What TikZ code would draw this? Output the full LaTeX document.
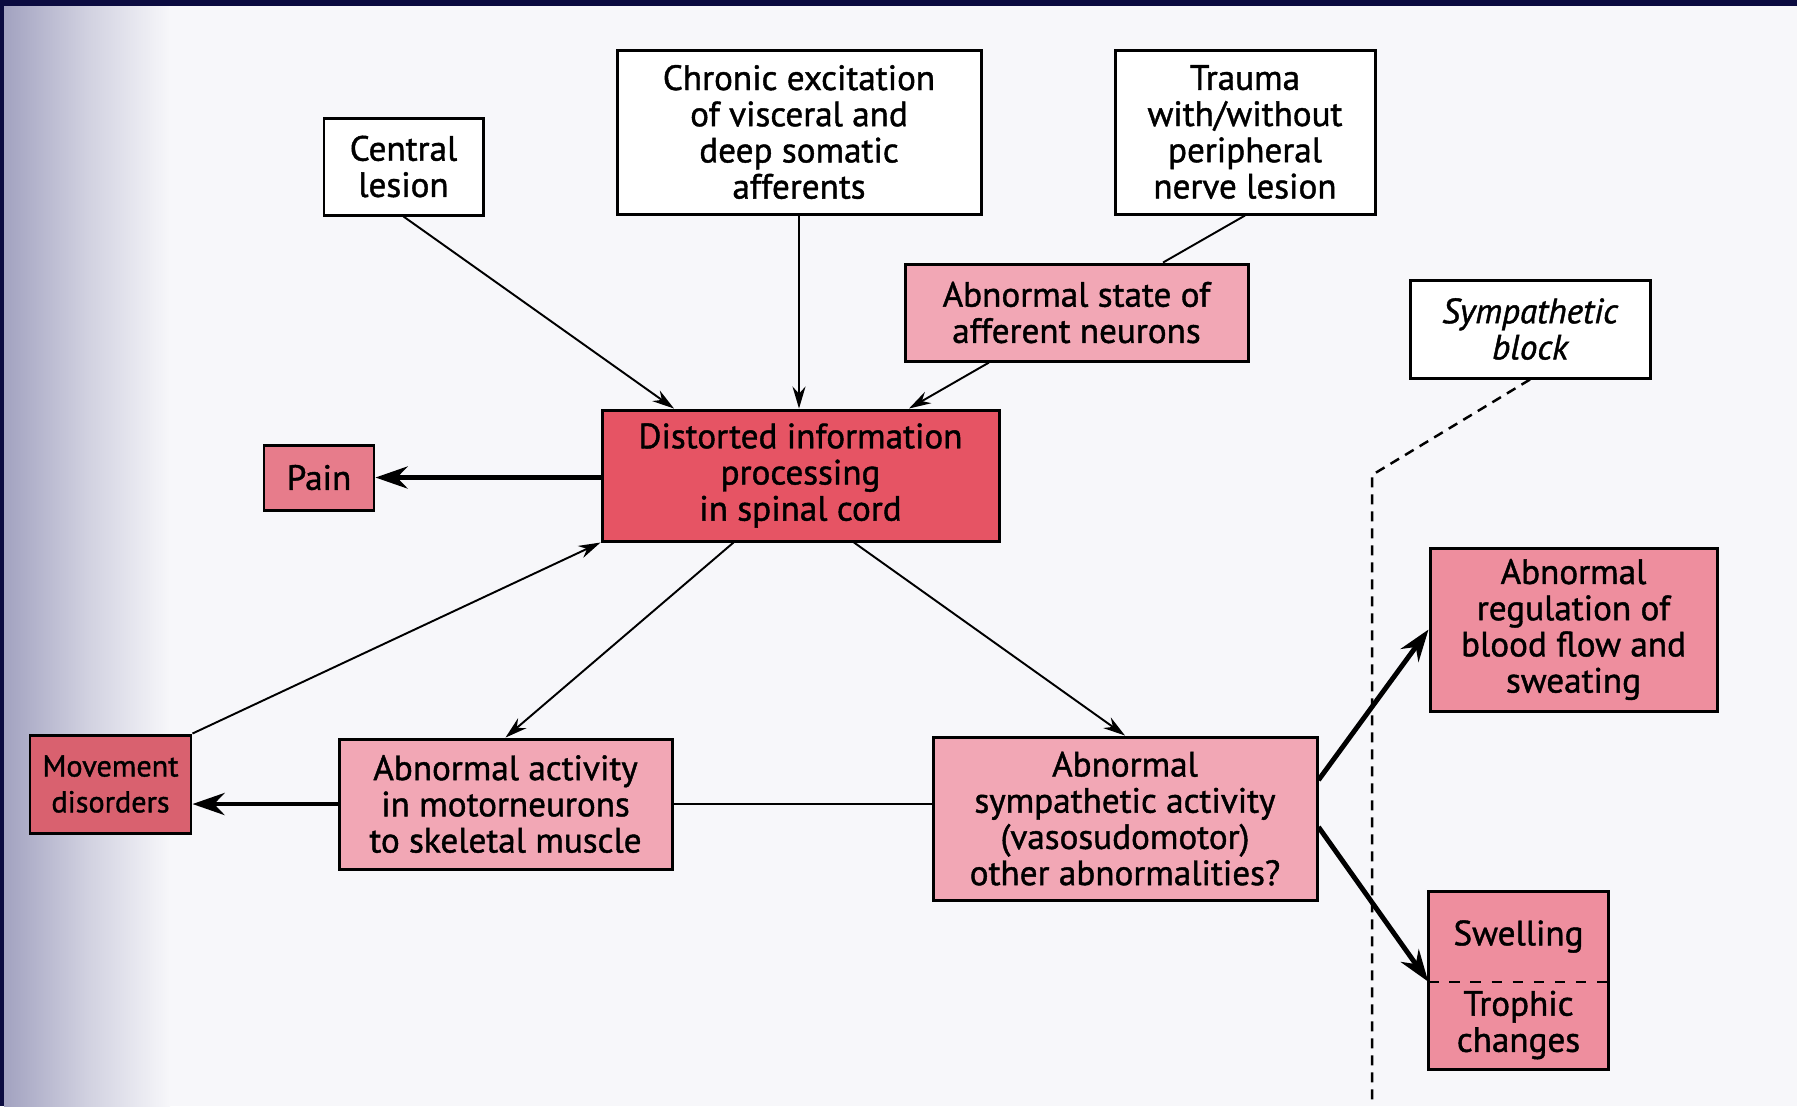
\documentclass[tikz,border=0pt]{standalone}
\usepackage{fontspec}
\setmainfont{PT Sans}[FakeBold=1.2]
\usepackage{tikz}
\usetikzlibrary{positioning,arrows.meta,calc}

\definecolor{coreRed}{HTML}{E65464}
\definecolor{lightPink}{HTML}{F2A7B5}
\definecolor{midPink}{HTML}{EE8E9E}
\definecolor{darkPink}{HTML}{D9616F}
\definecolor{painPink}{HTML}{E77C8B}
\definecolor{navyEdge}{HTML}{0B0B40}
\definecolor{pageGrey}{HTML}{F7F7FA}
\definecolor{scanShade}{HTML}{A2A2C0}

\tikzset{
  box/.style={draw, line width=0.85pt, align=center, inner sep=0pt,
    font=\fontsize{10}{10.3}\selectfont},
  whitebox/.style={box, fill=white},
  lightbox/.style={box, fill=lightPink},
  midbox/.style={box, fill=midPink},
  corebox/.style={box, fill=coreRed},
  painbox/.style={box, fill=painPink},
  movebox/.style={box, fill=darkPink, font=\fontsize{8.6}{10.2}\selectfont},
  halfbox/.style={fill=midPink, align=center, inner sep=0pt,
    font=\fontsize{10}{10.3}\selectfont},
  thin arrow/.style={-{Stealth[length=2.2mm,width=1.3mm]}, line width=0.55pt},
  thick arrow/.style={-{Stealth[length=3.2mm,width=2.2mm]}, line width=1.4pt},
  plain/.style={line width=0.55pt},
  blockline/.style={line width=0.7pt, dash pattern=on 1mm off 0.7mm},
}

\begin{document}
\begin{tikzpicture}[x=0.1mm, y=-0.1mm, >=Stealth]
    % page and scan edges
    \useasboundingbox (0,0) rectangle (1797,1106);
    \fill[pageGrey] (0,0) rectangle (1797,1106);
    \shade[left color=scanShade, right color=pageGrey, middle color=scanShade!45!pageGrey] (4,0) rectangle (170,1106);
    \fill[navyEdge] (0,0) rectangle (4,1106);
    \fill[navyEdge] (0,0) rectangle (1797,6);

    % causes
    \node[whitebox, minimum width=15.9mm, minimum height=9.7mm] (central) at (403.5,166.5) {Central\\lesion};
    \node[whitebox, minimum width=36.4mm, minimum height=16.4mm] (chronic) at (799,132) {Chronic excitation\\of visceral and\\deep somatic\\afferents};
    \node[whitebox, minimum width=26mm, minimum height=16.4mm] (trauma) at (1245,132) {Trauma\\with/without\\peripheral\\nerve lesion};
    \node[lightbox, minimum width=34.3mm, minimum height=9.7mm] (afferent) at (1076.5,312.5) {Abnormal state of\\afferent neurons};
    \node[whitebox, minimum width=24mm, minimum height=9.8mm, font=\fontsize{10}{10.3}\selectfont\itshape] (block) at (1530,329) {Sympathetic\\block};

    % spinal cord
    \node[corebox, minimum width=39.7mm, minimum height=13.1mm] (spinal) at (800.5,475.5) {Distorted information\\processing\\in spinal cord};
    \node[painbox, minimum width=11mm, minimum height=6.5mm] (pain) at (319,477.5) {Pain};

    % consequences
    \node[movebox, minimum width=16.1mm, minimum height=9.8mm] (movement) at (110.5,784) {Movement\\disorders};
    \node[lightbox, minimum width=33.3mm, minimum height=13mm] (motor) at (505.5,804) {Abnormal activity\\in motorneurons\\to skeletal muscle};
    \node[lightbox, minimum width=38.4mm, minimum height=16.3mm] (sympact) at (1125,818.5) {Abnormal\\sympathetic activity\\(vasosudomotor)\\other abnormalities?};
    \node[midbox, minimum width=28.7mm, minimum height=16.3mm] (bloodflow) at (1573.5,629.5) {Abnormal\\regulation of\\blood flow and\\sweating};
    \node[halfbox, minimum width=17.9mm, minimum height=8.9mm] (swelling) at (1518.5,936.5) {Swelling};
    \node[halfbox, minimum width=17.9mm, minimum height=8.8mm] (trophic) at (1518.5,1025) {Trophic\\changes};
    \draw[line width=0.85pt] (swelling.north west) rectangle (trophic.south east);
    \draw[line width=0.7pt, dashed] (swelling.south west) -- (swelling.south east);

    % inputs
    \draw[thin arrow] (central.south) -- ([xshift=-12.65mm]spinal.north);
    \draw[thin arrow] (chronic.south) -- (chronic.south |- spinal.north);
    \draw[plain] (trauma.south) -- ([xshift=8.65mm]afferent.north);
    \draw[thin arrow] ([xshift=-8.75mm]afferent.south) -- ([xshift=10.85mm]spinal.north);
    \draw[thick arrow] (spinal.west |- pain.east) -- (pain.east);

    % outputs
    \draw[thin arrow] (movement.north east) -- (spinal.south west);
    \draw[thin arrow] ([xshift=-6.7mm]spinal.south) -- (motor.north);
    \draw[thin arrow] ([xshift=5.35mm]spinal.south) -- (sympact.north);
    \draw[thick arrow] (motor.west) -- (motor.west -| movement.east);
    \draw[plain] (sympact.west |- motor.east) -- (motor.east);
    \draw[thick arrow] ([yshift=3.85mm]sympact.east) -- (bloodflow.west);
    \draw[thick arrow] ([yshift=-0.85mm]sympact.east) -- (swelling.south west);

    % sympathetic block boundary
    \coordinate (bend) at (1372,475);
    \coordinate (floor) at (1372,1106);
    \draw[blockline] (block.south) -- (bend) -- (floor);
\end{tikzpicture}
\end{document}
